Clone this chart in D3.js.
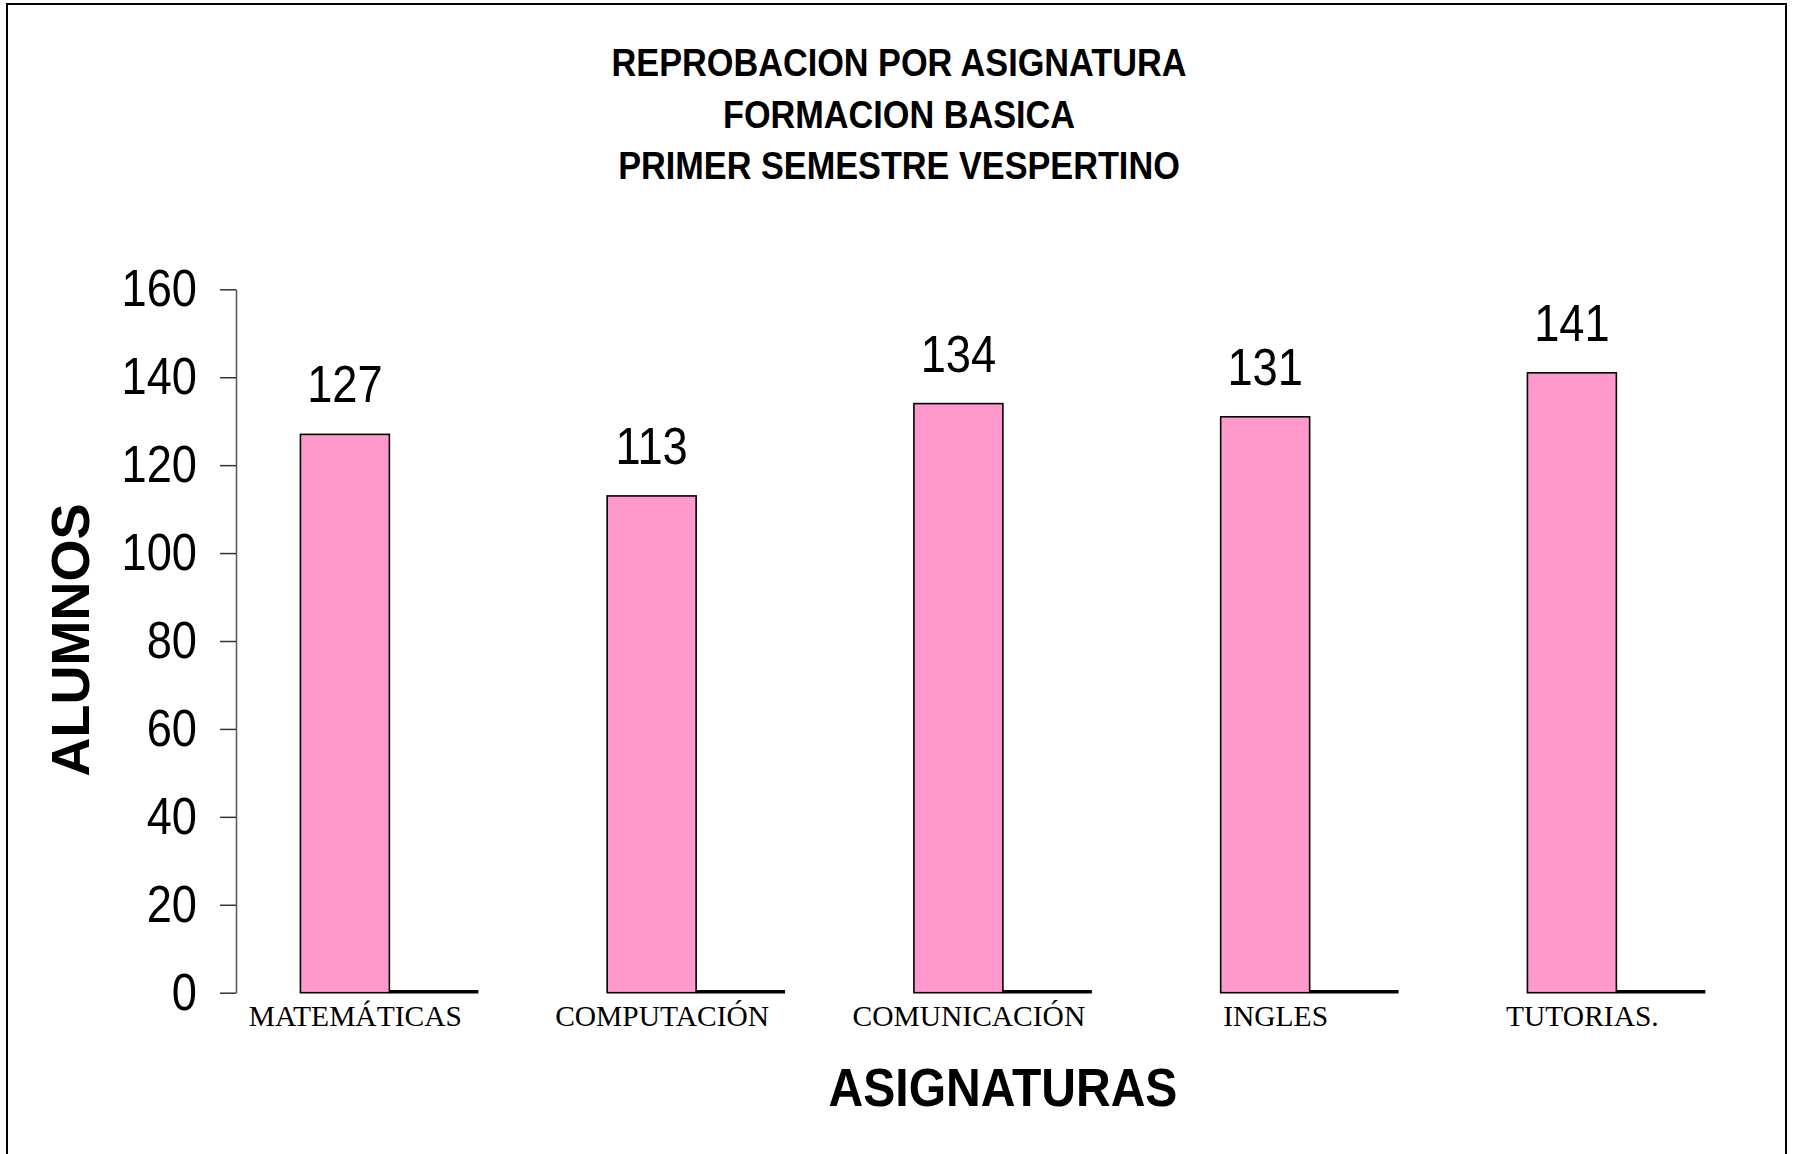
<!DOCTYPE html>
<html>
<head>
<meta charset="utf-8">
<script src="https://cdn.jsdelivr.net/npm/d3@7"></script>
<style>
  body { margin: 0; background: #fff; }
  svg text { fill: #000; }
</style>
</head>
<body>
<div id="chart"></div>
<script>
var width = 1793, height = 1154;

// data
var asignaturas = ["MATEMÁTICAS", "COMPUTACIÓN", "COMUNICACIÓN", "INGLES", "TUTORIAS."];
var reprobados = [127, 113, 134, 131, 141];
var segundaSerie = [0, 0, 0, 0, 0];   // empty series, drawn as the black line beside each bar
var yTicks = [0, 20, 40, 60, 80, 100, 120, 140, 160];
var titulo = ["REPROBACION POR ASIGNATURA", "FORMACION BASICA", "PRIMER SEMESTRE VESPERTINO"];

var squeeze = 0.87;   // the original fonts are a bit narrower than Arial
var squeezeBold = 0.89;

var svg = d3.select("#chart")
  .append("svg")
  .attr("width", width)
  .attr("height", height);

// frame
svg.append("rect")
  .attr("x", 7).attr("y", 4)
  .attr("width", 1779).attr("height", 1170)
  .attr("fill", "none")
  .attr("stroke", "#000")
  .attr("stroke-width", 2);

var x = d3.scaleBand()
  .domain(asignaturas)
  .range([236, 1769.75])
  .paddingInner(0.42)
  .paddingOuter(0.21);

var y = d3.scaleLinear()
  .domain([0, 160])
  .range([992.7, 289.3]);

var barW = x.bandwidth() / 2;

// title
svg.selectAll(".titulo")
  .data(titulo)
  .enter().append("text")
  .attr("class", "titulo")
  .attr("transform", function(d, i) { return "translate(899," + (76 + i * 51.6) + ") scale(" + squeezeBold + ",1)"; })
  .attr("text-anchor", "middle")
  .style("font-family", "'Liberation Sans', Arial, sans-serif")
  .style("font-weight", "bold")
  .style("font-size", "38.5px")
  .text(function(d) { return d; });

// y axis
var yAxis = d3.axisLeft(y)
  .tickValues(yTicks)
  .tickSize(16)
  .tickSizeOuter(0)
  .tickPadding(23);

var gy = svg.append("g")
  .attr("transform", "translate(236,0)")
  .call(yAxis);

gy.select(".domain").attr("stroke", "#555").attr("stroke-width", 1.5);
gy.selectAll(".tick line").attr("stroke", "#333").attr("stroke-width", 1.5);
gy.selectAll(".tick text")
  .attr("x", -39 / squeeze)
  .attr("transform", "scale(" + squeeze + ",1)")
  .style("font-family", "'Liberation Sans', Arial, sans-serif")
  .style("font-size", "52px")
  .attr("fill", "#000");

// pink bars
svg.selectAll(".bar")
  .data(reprobados)
  .enter().append("rect")
  .attr("class", "bar")
  .attr("x", function(d, i) { return x(asignaturas[i]); })
  .attr("y", function(d) { return y(d); })
  .attr("width", barW)
  .attr("height", function(d) { return y(0) - y(d); })
  .attr("fill", "#ff99cc")
  .attr("stroke", "#000")
  .attr("stroke-width", 1.6);

// second (zero) series
svg.selectAll(".bar0")
  .data(segundaSerie)
  .enter().append("line")
  .attr("class", "bar0")
  .attr("x1", function(d, i) { return x(asignaturas[i]) + barW; })
  .attr("x2", function(d, i) { return x(asignaturas[i]) + 2 * barW; })
  .attr("y1", function(d) { return y(d) - 1; })
  .attr("y2", function(d) { return y(d) - 1; })
  .attr("stroke", "#000")
  .attr("stroke-width", 3.5);

// value labels
svg.selectAll(".valor")
  .data(reprobados)
  .enter().append("text")
  .attr("class", "valor")
  .attr("transform", function(d, i) {
    return "translate(" + (x(asignaturas[i]) + barW / 2) + "," + (y(d) - 32) + ") scale(" + squeeze + ",1)";
  })
  .attr("text-anchor", "middle")
  .style("font-family", "'Liberation Sans', Arial, sans-serif")
  .style("font-size", "52px")
  .text(function(d) { return d; });

// category labels
svg.selectAll(".cat")
  .data(asignaturas)
  .enter().append("text")
  .attr("class", "cat")
  .attr("x", function(d) { return x(d) + x.bandwidth() / 2 - 34; })
  .attr("y", 1026)
  .attr("text-anchor", "middle")
  .style("font-family", "'Liberation Serif', 'Times New Roman', serif")
  .style("font-size", "29.5px")
  .text(function(d) { return d; });

// axis titles
svg.append("text")
  .attr("transform", "translate(1003,1106) scale(" + squeezeBold + ",1)")
  .attr("text-anchor", "middle")
  .style("font-family", "'Liberation Sans', Arial, sans-serif")
  .style("font-weight", "bold")
  .style("font-size", "54px")
  .text("ASIGNATURAS");

svg.append("text")
  .attr("transform", "translate(89,640) rotate(-90)")
  .attr("text-anchor", "middle")
  .style("font-family", "'Liberation Sans', Arial, sans-serif")
  .style("font-weight", "bold")
  .style("font-size", "54px")
  .text("ALUMNOS");
</script>
</body>
</html>
